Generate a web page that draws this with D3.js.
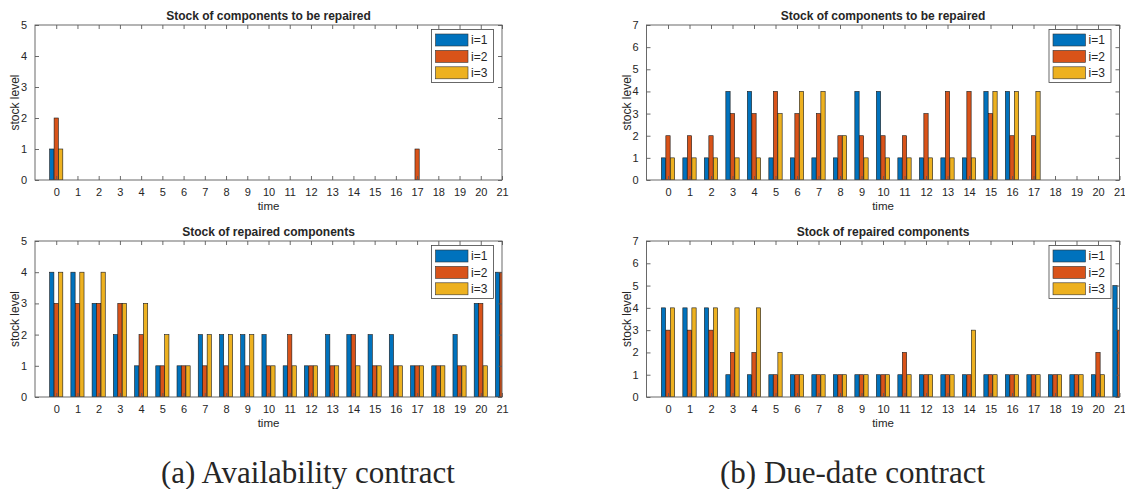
<!DOCTYPE html>
<html><head><meta charset="utf-8">
<script src="https://cdn.jsdelivr.net/npm/d3@7"></script>
<style>
body{margin:0;background:#fff;}
svg{display:block;}
text{font-family:"Liberation Sans",Arial,sans-serif;fill:#262626;}
</style></head>
<body>
<svg id="chart" width="1125" height="489"></svg>
<script>
// ---- data ----
const times = d3.range(0, 22); // 0..21
const seriesNames = ["i=1", "i=2", "i=3"];
const seriesColors = ["#0072BD", "#D95319", "#EDB120"];

// (a) Availability contract
const availToRepair_i1 = [1,0,0,0,0,0,0,0,0,0,0,0,0,0,0,0,0,0,0,0,0,0];
const availToRepair_i2 = [2,0,0,0,0,0,0,0,0,0,0,0,0,0,0,0,0,1,0,0,0,0];
const availToRepair_i3 = [1,0,0,0,0,0,0,0,0,0,0,0,0,0,0,0,0,0,0,0,0,0];

const availRepaired_i1 = [4,4,3,2,1,1,1,2,2,2,2,1,1,2,2,2,2,1,1,2,3,4];
const availRepaired_i2 = [3,3,3,3,2,1,1,1,1,1,1,2,1,1,2,1,1,1,1,1,3,4];
const availRepaired_i3 = [4,4,4,3,3,2,1,2,2,2,1,1,1,1,1,1,1,1,1,1,1,4];

// (b) Due-date contract
const dueToRepair_i1 = [1,1,1,4,4,1,1,1,1,4,4,1,1,1,1,4,4,0,0,0,0,0];
const dueToRepair_i2 = [2,2,2,3,3,4,3,3,2,2,2,2,3,4,4,3,2,2,0,0,0,0];
const dueToRepair_i3 = [1,1,1,1,1,3,4,4,2,1,1,1,1,1,1,4,4,4,0,0,0,0];

const dueRepaired_i1 = [4,4,4,1,1,1,1,1,1,1,1,1,1,1,1,1,1,1,1,1,1,5];
const dueRepaired_i2 = [3,3,3,2,2,1,1,1,1,1,1,2,1,1,1,1,1,1,1,1,2,3];
const dueRepaired_i3 = [4,4,4,4,4,2,1,1,1,1,1,1,1,1,3,1,1,1,1,1,1,4];

const titleTop = "Stock of components to be repaired";
const titleBottom = "Stock of repaired components";
const yLabel = "stock level";
const xLabel = "time";
const captionA = "(a) Availability contract";
const captionB = "(b) Due-date contract";

// ---- layout ----
const svg = d3.select("#chart");
const panels = [
  {id:"a1", x0:35, x1:502, y0:25, y1:180, ymax:5, title:titleTop, series:[availToRepair_i1,availToRepair_i2,availToRepair_i3]},
  {id:"a2", x0:35, x1:502, y0:241, y1:397, ymax:5, title:titleBottom, series:[availRepaired_i1,availRepaired_i2,availRepaired_i3]},
  {id:"b1", x0:646.5, x1:1119.5, y0:25, y1:180, ymax:7, title:titleTop, series:[dueToRepair_i1,dueToRepair_i2,dueToRepair_i3]},
  {id:"b2", x0:646.5, x1:1119.5, y0:241, y1:397, ymax:7, title:titleBottom, series:[dueRepaired_i1,dueRepaired_i2,dueRepaired_i3]},
];

const axisColor = "#5a5a5a";
const tickLen = 4;
const barOffset = 0.21, barW = 0.2;

panels.forEach(p => {
  const x = d3.scaleLinear().domain([-1, 21]).range([p.x0, p.x1]);
  const y = d3.scaleLinear().domain([0, p.ymax]).range([p.y1, p.y0]);
  const g = svg.append("g");

  g.append("defs").append("clipPath").attr("id", "clip-" + p.id)
    .append("rect").attr("x", p.x0).attr("y", p.y0).attr("width", p.x1 - p.x0).attr("height", p.y1 - p.y0);

  // bars
  const barsG = g.append("g").attr("clip-path", `url(#clip-${p.id})`);
  p.series.forEach((vals, si) => {
    const data = times.map((t, i) => ({t, v: vals[i]})).filter(d => d.v > 0);
    barsG.selectAll(null).data(data).enter().append("rect")
      .attr("x", d => x(d.t + (si - 1) * barOffset - barW / 2))
      .attr("width", x(barW) - x(0))
      .attr("y", d => y(d.v))
      .attr("height", d => y(0) - y(d.v))
      .attr("fill", seriesColors[si])
      .attr("stroke", "#1a1a1a")
      .attr("stroke-width", 0.6);
  });

  // frame
  g.append("rect").attr("x", p.x0).attr("y", p.y0).attr("width", p.x1 - p.x0).attr("height", p.y1 - p.y0)
    .attr("fill", "none").attr("stroke", axisColor).attr("stroke-width", 0.9);

  const xAxis = d3.axisBottom(x).tickValues(times).tickFormat(d3.format("d")).tickSizeInner(-tickLen).tickSizeOuter(0).tickPadding(8);
  const xa = g.append("g").attr("transform", `translate(0,${p.y1})`).call(xAxis);
  const xt = g.append("g").attr("transform", `translate(0,${p.y0})`).call(d3.axisTop(x).tickValues(times).tickFormat("").tickSizeInner(-tickLen).tickSizeOuter(0));
  const yAxis = d3.axisLeft(y).ticks(p.ymax).tickFormat(d3.format("d")).tickSizeInner(-tickLen).tickSizeOuter(0).tickPadding(8);
  const ya = g.append("g").attr("transform", `translate(${p.x0},0)`).call(yAxis);
  const yr = g.append("g").attr("transform", `translate(${p.x1},0)`).call(d3.axisRight(y).ticks(p.ymax).tickFormat("").tickSizeInner(-tickLen).tickSizeOuter(0));

  [xa, xt, ya, yr].forEach(a => {
    a.select(".domain").remove();
    a.selectAll(".tick line").attr("stroke", axisColor).attr("stroke-width", 0.9);
    a.selectAll(".tick text").style("font-family", '"Liberation Sans", Arial, sans-serif').style("font-size", "11px").attr("fill", "#262626");
  });
  xa.selectAll(".tick text").attr("dy", "0.71em");

  // title
  g.append("text").attr("x", (p.x0 + p.x1) / 2).attr("y", p.y0 - 5)
    .attr("text-anchor", "middle").style("font-size", "12px").style("font-weight", "bold").attr("fill", "#000")
    .text(p.title);
  // x label
  g.append("text").attr("x", (p.x0 + p.x1) / 2).attr("y", p.y1 + 29.5)
    .attr("text-anchor", "middle").style("font-size", "11.5px").text(xLabel);
  // y label
  g.append("text").attr("transform", `translate(${p.x0 - 16},${(p.y0 + p.y1) / 2}) rotate(-90)`)
    .attr("text-anchor", "middle").style("font-size", "12px").text(yLabel);

  // legend
  const lw = 62, lh = 53;
  const lx = p.x1 - 70.5, ly = p.y0 + 4.5;
  const leg = g.append("g");
  leg.append("rect").attr("x", lx).attr("y", ly).attr("width", lw).attr("height", lh)
    .attr("fill", "#fff").attr("stroke", "#444").attr("stroke-width", 0.8);
  seriesNames.forEach((name, si) => {
    const cy = ly + 10.5 + si * 16.4;
    leg.append("rect").attr("x", lx + 4).attr("y", cy - 6).attr("width", 32.5).attr("height", 12)
      .attr("fill", seriesColors[si]).attr("stroke", "#333").attr("stroke-width", 0.6);
    leg.append("text").attr("x", lx + 39.5).attr("y", cy).attr("dy", "0.36em")
      .style("font-size", "12px").text(name);
  });
});

// captions
svg.append("text").attr("x", 161).attr("y", 483).style("font-family", '"Liberation Serif","Times New Roman",serif')
  .style("font-size", "31px").attr("fill", "#000").text(captionA);
svg.append("text").attr("x", 720).attr("y", 483).style("font-family", '"Liberation Serif","Times New Roman",serif')
  .style("font-size", "31px").attr("fill", "#000").text(captionB);
</script>
</body></html>
